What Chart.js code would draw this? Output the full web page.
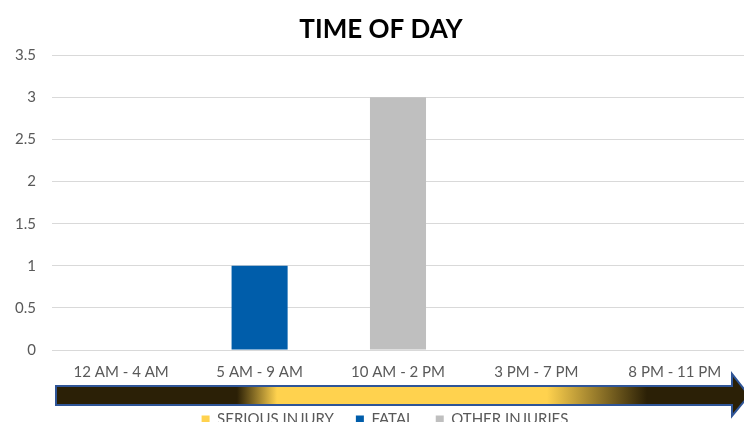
<!DOCTYPE html>
<html>
<head>
<meta charset="utf-8">
<script src="https://cdn.jsdelivr.net/npm/chart.js@4"></script>
<style>
  html, body { margin: 0; padding: 0; background: #fff; overflow: hidden; }
  #wrap { width: 744px; height: 437px; }
</style>
</head>
<body>
<div id="wrap"><canvas id="myChart"></canvas></div>
<script>
// data
const categories = ['12 AM - 4 AM', '5 AM - 9 AM', '10 AM - 2 PM', '3 PM - 7 PM', '8 PM - 11 PM'];
const seriousInjury = [0, 0, 0, 0, 0];
const fatal = [0, 1, 0, 0, 0];
const otherInjuries = [0, 0, 3, 0, 0];
const yTicks = [0, 0.5, 1, 1.5, 2, 2.5, 3, 3.5];

const FONT = 'Lato, "Open Sans", sans-serif';

// the gradient arrow drawn under the category labels
const timeArrow = {
    id: 'timeArrow',
    afterDraw(chart) {
        const ctx = chart.ctx;
        const area = chart.chartArea;
        const x0 = area.left + 4;
        const x1 = area.right - 12;
        const tip = area.right + 5;
        const top = area.bottom + 36;
        const bot = top + 19;
        const mid = (top + bot) / 2;

        const g = ctx.createLinearGradient(x0, 0, tip, 0);
        const w = tip - x0;
        const dark = '#2b2006';
        const gold = '#ffd24e';
        g.addColorStop(0, dark);
        g.addColorStop((237 - x0) / w, dark);
        g.addColorStop((277 - x0) / w, gold);
        g.addColorStop((547 - x0) / w, gold);
        g.addColorStop((647 - x0) / w, dark);
        g.addColorStop(1, dark);

        ctx.save();
        ctx.beginPath();
        ctx.moveTo(x0, top);
        ctx.lineTo(x1, top);
        ctx.lineTo(x1, top - 12);
        ctx.lineTo(tip, mid);
        ctx.lineTo(x1, bot + 11);
        ctx.lineTo(x1, bot);
        ctx.lineTo(x0, bot);
        ctx.closePath();
        ctx.fillStyle = g;
        ctx.fill();
        ctx.lineWidth = 2;
        ctx.strokeStyle = '#2f5597';
        ctx.stroke();
        ctx.restore();
    }
};

// title and legend sit a little right of the page centre in the original
const nudge = {
    id: 'nudge',
    afterLayout(chart) {
        chart.titleBlock.left += 9;
        chart.titleBlock.right += 9;
        chart.legend.left += 13;
        chart.legend.right += 13;
    }
};

const ctx = document.getElementById('myChart');

new Chart(ctx, {
    type: 'bar',
    data: {
        labels: categories,
        datasets: [
            { label: 'SERIOUS INJURY', data: seriousInjury, backgroundColor: '#ffd24e' },
            { label: 'FATAL', data: fatal, backgroundColor: '#005daa' },
            { label: 'OTHER INJURIES', data: otherInjuries, backgroundColor: '#bfbfbf' }
        ]
    },
    options: {
        responsive: true,
        maintainAspectRatio: false,
        animation: false,
        layout: { padding: { left: 0, right: 0, top: 14, bottom: 0 } },
        datasets: {
            bar: { grouped: false, categoryPercentage: 0.405, barPercentage: 1 }
        },
        plugins: {
            title: {
                display: true,
                text: 'TIME OF DAY',
                color: '#000',
                font: { family: FONT, size: 26, weight: 'bold' },
                padding: { top: 0, bottom: 10 }
            },
            legend: {
                position: 'bottom',
                labels: {
                    color: '#595959',
                    font: { family: FONT, size: 15 },
                    boxWidth: 8,
                    boxHeight: 8,
                    padding: 22
                }
            },
            tooltip: { enabled: false }
        },
        scales: {
            x: {
                grid: { display: false },
                border: { display: false },
                ticks: { color: '#595959', font: { family: FONT, size: 15 }, padding: 5, maxRotation: 0 },
                afterFit(scale) { scale.height += 4; }
            },
            y: {
                min: 0,
                max: 3.5,
                afterBuildTicks(scale) { scale.ticks = yTicks.map(v => ({ value: v })); },
                afterFit(scale) { scale.width = 52; },
                grid: { color: '#d9d9d9', lineWidth: 1, drawTicks: false },
                border: { display: false },
                ticks: {
                    color: '#595959',
                    font: { family: FONT, size: 15 },
                    padding: 16,
                    callback: v => String(v)
                }
            }
        }
    },
    plugins: [timeArrow, nudge]
});
</script>
</body>
</html>
